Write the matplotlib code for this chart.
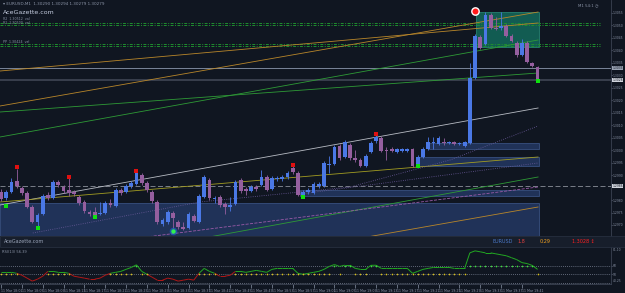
import numpy as np
import pandas as pd
import matplotlib.pyplot as plt
from matplotlib.patches import Rectangle
from matplotlib.collections import LineCollection

# EURUSD M1 candles
opens = [1.29832, 1.29808, 1.29832, 1.29876, 1.29848, 1.29828, 1.29772, 1.29712, 1.29744, 1.29820,
         1.29808, 1.29872, 1.29852, 1.29840, 1.29832, 1.29812, 1.29792, 1.29752, 1.29752, 1.29744,
         1.29748, 1.29788, 1.29776, 1.29840, 1.29832, 1.29856, 1.29864, 1.29900, 1.29868, 1.29832,
         1.29792, 1.29704, 1.29712, 1.29748, 1.29712, 1.29692, 1.29688, 1.29736, 1.29712, 1.29812,
         1.29880, 1.29804, 1.29812, 1.29784, 1.29772, 1.29784, 1.29880, 1.29844, 1.29836, 1.29852,
         1.29860, 1.29892, 1.29844, 1.29884, 1.29884, 1.29892, 1.29928, 1.29908, 1.29820, 1.29832,
         1.29828, 1.29856, 1.29856, 1.29940, 1.29944, 1.30016, 1.29972, 1.30020, 1.29968, 1.29960,
         1.29936, 1.29992, 1.30036, 1.30048, 1.30000, 1.30004, 1.29992, 1.29996, 1.29996, 1.30004,
         1.29936, 1.29972, 1.30004, 1.30028, 1.30024, 1.30032, 1.30028, 1.30032, 1.30024, 1.30016,
         1.30028, 1.30288, 1.30452, 1.30424, 1.30540, 1.30488, 1.30488, 1.30496, 1.30456, 1.30428,
         1.30380, 1.30428, 1.30348, 1.30332]
highs = [1.29844, 1.29840, 1.29888, 1.29924, 1.29856, 1.29836, 1.29780, 1.29748, 1.29824, 1.29832,
         1.29880, 1.29880, 1.29860, 1.29888, 1.29840, 1.29820, 1.29800, 1.29760, 1.29772, 1.29792,
         1.29796, 1.29804, 1.29848, 1.29848, 1.29864, 1.29876, 1.29912, 1.29908, 1.29876, 1.29840,
         1.29800, 1.29728, 1.29760, 1.29756, 1.29720, 1.29712, 1.29752, 1.29744, 1.29824, 1.29900,
         1.29888, 1.29816, 1.29820, 1.29792, 1.29812, 1.29880, 1.29888, 1.29852, 1.29860, 1.29860,
         1.29920, 1.29900, 1.29896, 1.29896, 1.29900, 1.29916, 1.29936, 1.29916, 1.29840, 1.29848,
         1.29872, 1.29872, 1.29956, 1.29976, 1.30020, 1.30024, 1.30040, 1.30028, 1.30000, 1.29968,
         1.29984, 1.30036, 1.30060, 1.30056, 1.30012, 1.30012, 1.30008, 1.30008, 1.30008, 1.30008,
         1.29980, 1.30012, 1.30052, 1.30052, 1.30056, 1.30048, 1.30036, 1.30036, 1.30032, 1.30036,
         1.30348, 1.30464, 1.30460, 1.30552, 1.30548, 1.30532, 1.30552, 1.30504, 1.30464, 1.30436,
         1.30444, 1.30436, 1.30352, 1.30336]
lows = [1.29796, 1.29800, 1.29828, 1.29848, 1.29820, 1.29768, 1.29708, 1.29696, 1.29740, 1.29800,
        1.29804, 1.29852, 1.29828, 1.29816, 1.29816, 1.29780, 1.29748, 1.29736, 1.29736, 1.29740,
        1.29744, 1.29772, 1.29772, 1.29820, 1.29828, 1.29848, 1.29860, 1.29860, 1.29832, 1.29788,
        1.29704, 1.29696, 1.29704, 1.29688, 1.29684, 1.29680, 1.29684, 1.29712, 1.29708, 1.29808,
        1.29800, 1.29788, 1.29772, 1.29744, 1.29756, 1.29780, 1.29828, 1.29820, 1.29832, 1.29836,
        1.29856, 1.29836, 1.29840, 1.29876, 1.29876, 1.29884, 1.29904, 1.29816, 1.29812, 1.29824,
        1.29824, 1.29848, 1.29852, 1.29908, 1.29940, 1.29960, 1.29968, 1.29960, 1.29952, 1.29932,
        1.29932, 1.29988, 1.30028, 1.29992, 1.29960, 1.29992, 1.29988, 1.29992, 1.29992, 1.29932,
        1.29932, 1.29968, 1.30000, 1.30004, 1.30020, 1.30020, 1.30024, 1.30020, 1.30020, 1.30012,
        1.30024, 1.30284, 1.30404, 1.30420, 1.30484, 1.30480, 1.30480, 1.30452, 1.30432, 1.30372,
        1.30376, 1.30348, 1.30332, 1.30276]
closes = [1.29804, 1.29832, 1.29872, 1.29856, 1.29828, 1.29772, 1.29712, 1.29740, 1.29816, 1.29808,
          1.29872, 1.29860, 1.29836, 1.29828, 1.29824, 1.29788, 1.29756, 1.29744, 1.29740, 1.29748,
          1.29788, 1.29780, 1.29840, 1.29828, 1.29856, 1.29868, 1.29908, 1.29868, 1.29840, 1.29796,
          1.29712, 1.29720, 1.29752, 1.29728, 1.29692, 1.29684, 1.29744, 1.29716, 1.29816, 1.29892,
          1.29808, 1.29808, 1.29780, 1.29772, 1.29780, 1.29872, 1.29836, 1.29836, 1.29852, 1.29844,
          1.29892, 1.29840, 1.29888, 1.29888, 1.29892, 1.29908, 1.29912, 1.29820, 1.29832, 1.29840,
          1.29864, 1.29864, 1.29948, 1.29944, 1.30012, 1.29968, 1.30032, 1.29968, 1.29960, 1.29936,
          1.29976, 1.30028, 1.30052, 1.29996, 1.29996, 1.29996, 1.30004, 1.30004, 1.30004, 1.29936,
          1.29972, 1.30004, 1.30032, 1.30032, 1.30048, 1.30028, 1.30032, 1.30024, 1.30028, 1.30032,
          1.30288, 1.30456, 1.30408, 1.30540, 1.30488, 1.30484, 1.30496, 1.30456, 1.30436, 1.30380,
          1.30428, 1.30352, 1.30336, 1.30280]

# oscillator in the lower pane
rsi = [52.2, 52.2, 52.2, 51.1, 48.9, 45.6, 42.2, 44.4, 47.8, 53.3,
       53.3, 52.2, 52.2, 51.1, 47.8, 46.7, 45.6, 44.4, 44.4, 45.6,
       48.9, 51.1, 52.2, 53.3, 55.6, 57.8, 60.8, 53.3, 50.0, 46.7,
       43.3, 43.3, 45.6, 44.4, 42.2, 43.3, 44.4, 43.3, 51.1, 56.7,
       53.3, 51.1, 47.8, 47.8, 48.9, 53.3, 53.3, 52.2, 53.3, 54.4,
       53.3, 52.2, 55.6, 56.7, 56.7, 56.7, 56.7, 51.1, 50.0, 51.1,
       52.2, 53.3, 55.6, 58.9, 61.1, 58.9, 60.4, 60.4, 56.7, 55.6,
       55.6, 60.2, 60.3, 56.7, 56.7, 56.7, 56.7, 56.7, 56.7, 51.1,
       53.3, 55.6, 56.7, 57.8, 57.8, 57.8, 57.8, 56.7, 56.7, 56.7,
       74.4, 76.7, 75.6, 74.4, 74.4, 73.3, 72.2, 71.1, 68.9, 66.7,
       63.3, 62.2, 60.0, 55.6]

# fractal / signal markers (bar index, price)
up_marks_idx = [3, 13, 26, 56, 72]
up_marks_px = [1.29932, 1.29892, 1.29916, 1.29940, 1.30064]
dn_marks_idx = [1, 7, 18, 58, 80, 103]
dn_marks_px = [1.29776, 1.29688, 1.29732, 1.29812, 1.29936, 1.30276]
big_dot = (33, 1.29676)
alert_dot = (91, 1.30556)

# horizontal levels
green_levels = [1.30508, 1.30500, 1.30424, 1.30416]
level_line = 1.30328
last_price = 1.30280
dash_level = 1.29856

# zones: (start bar, end bar, low, high)
zones = [(-0.2, 103.2, 1.29656, 1.29788),
         (57.4, 103.2, 1.29816, 1.29840),
         (80.0, 103.2, 1.29936, 1.29972),
         (82.0, 103.2, 1.30004, 1.30028)]
box = (91.2, 103.2, 1.30412, 1.30552)

# trend lines: (bars, prices, colour, style)
trend_lines = [
    ([-0.2, 103.1], [1.30316, 1.30508], '#b8862a', '-'),
    ([-0.2, 103.1], [1.30176, 1.30552], '#b8862a', '-'),
    ([-0.2, 103.1], [1.30052, 1.30440], '#2e9a36', '-'),
    ([-0.2, 103.1], [1.30152, 1.30308], '#2e9a36', '-'),
    ([-0.2, 103.1], [1.29780, 1.30168], '#b8bcc4', '-'),
    ([-0.2, 103.1], [1.29792, 1.29972], '#a29c22', '-'),
    ([6.1, 38.2, 67.0, 86.2, 103.1], [1.29668, 1.29792, 1.29852, 1.29960, 1.30096], '#6a5a9a', ':'),
    ([57.4, 103.1], [1.29824, 1.29948], '#6a5a9a', ':'),
    ([36.8, 103.1], [1.29640, 1.29892], '#2e9a36', '-'),
    ([23.4, 103.1], [1.29640, 1.29852], '#9a5aa8', '--'),
    ([67.0, 103.1], [1.29640, 1.29772], '#b8862a', '-'),
]

times = pd.date_range('2013-03-11 18:01', periods=len(opens), freq='1min')
label_idx = list(range(0, 101, 4))
time_labels = [times[i].strftime('%d %b %H:%M') for i in label_idx]

BG = '#101621'
BULL = '#4a78e6'
BEAR = '#955f9f'
TXT = '#8a93a6'

fig = plt.figure(figsize=(6.25, 2.93), dpi=100, facecolor=BG)
ax = fig.add_axes([0, 57 / 293, 611 / 625, 236 / 293], facecolor=BG)
ax2 = fig.add_axes([0, 9 / 293, 611 / 625, 37 / 293], facecolor=BG, sharex=ax)

x = np.arange(len(opens))
o = np.array(opens)
c = np.array(closes)

# zones and box
for x0, x1, lo, hi in zones:
    ax.add_patch(Rectangle((x0, lo), x1 - x0, hi - lo, facecolor='#22365f', edgecolor='#3b5587',
                           lw=0.6, alpha=0.9, zorder=1))
ax.add_patch(Rectangle((box[0], box[2]), box[1] - box[0], box[3] - box[2], facecolor='#13695b',
                       edgecolor='#2a8c7a', lw=0.6, alpha=0.85, zorder=1))

for lv in green_levels:
    ax.axhline(lv, color='#1f8f2f', lw=0.7, ls=(0, (3, 1.5, 1, 1.5)), xmax=600 / 611, zorder=2)
ax.axhline(level_line, color='#7a8599', lw=0.7, zorder=2)
ax.axhline(last_price, color='#3f4554', lw=1.2, zorder=2)
ax.axhline(dash_level, color='#8a8f99', lw=0.6, ls=(0, (6, 3)), zorder=2)

for xs, ys, col, ls in trend_lines:
    ax.plot(xs, ys, color=col, lw=0.6, ls=ls, zorder=2)

# candles
colors = np.where(c >= o, BULL, BEAR)
ax.vlines(x, lows, highs, colors=colors, lw=0.6, zorder=3)
body = np.maximum(np.abs(c - o), 0.00003)
ax.bar(x, body, bottom=np.minimum(o, c), width=0.72, color=colors, zorder=4)

ax.scatter(up_marks_idx, up_marks_px, s=5, marker='s', color='#e01010', zorder=5, lw=0)
ax.scatter(dn_marks_idx, dn_marks_px, s=5, marker='s', color='#10e010', zorder=5, lw=0)
ax.scatter([big_dot[0]], [big_dot[1]], s=30, color='#1e6ad8', alpha=0.6, zorder=5, lw=0)
ax.scatter([big_dot[0]], [big_dot[1]], s=10, color='#30f050', zorder=6, lw=0)
ax.scatter([alert_dot[0]], [alert_dot[1]], s=28, color='#ff1a1a', edgecolor='white', lw=1.0, zorder=6)

ax.set_xlim(-0.2, 117.1)
ax.set_ylim(1.29656, 1.30600)
ax.yaxis.tick_right()
# skip the plain labels that would sit under the highlighted ones
yt = [t for t in np.arange(1.2970, 1.3058, 0.0005)
      if min(abs(t - level_line), abs(t - last_price), abs(t - dash_level)) > 0.00015]
ax.set_yticks(yt)
ax.yaxis.set_major_formatter(plt.FormatStrFormatter('%.4f'))
ax.tick_params(axis='y', colors=TXT, labelsize=2.2, length=1, width=0.5, pad=0.4)
ax.tick_params(axis='x', bottom=False, labelbottom=False)
for s in ['top', 'left', 'bottom']:
    ax.spines[s].set_visible(False)
ax.spines['right'].set_color('#3a4252')
ax.spines['right'].set_linewidth(0.6)

for val, fc in [(level_line, '#9aa3b3'), (last_price, '#d0d4dc'), (dash_level, '#d0d4dc')]:
    ax.text(1.002, val, f'{val:.4f}', transform=ax.get_yaxis_transform(), fontsize=2.2,
            color='#101621', va='center', ha='left',
            bbox=dict(boxstyle='square,pad=0.1', fc=fc, ec='none'))

# oscillator pane
r = np.array(rsi)
pts = np.column_stack([x, r])
segs = np.stack([pts[:-1], pts[1:]], axis=1)
seg_cols = ['#22a822' if min(a, b) >= 50 else '#b01818' for a, b in zip(r[:-1], r[1:])]
ax2.add_collection(LineCollection(segs, colors=seg_cols, lw=0.7, zorder=3))
for lv in [60, 50, 40]:
    ax2.axhline(lv, color='#7a8294', lw=0.6, ls=(0, (1, 1.5)), zorder=1)
mid = (r >= 50) & (r < 60)
hi = r >= 60
ax2.scatter(x[mid], np.full(mid.sum(), 50), s=1.5, color='#d8c020', lw=0, zorder=4)
ax2.scatter(x[hi], np.full(hi.sum(), 60), s=1.5, color='#40e040', lw=0, zorder=4)
ax2.set_ylim(38.9, 81.1)
ax2.yaxis.tick_right()
ax2.set_yticks([50, 60])
ax2.tick_params(axis='y', colors=TXT, labelsize=2.2, length=1, width=0.5, pad=0.4)
ax2.text(1.003, 0.97, '81.10', transform=ax2.transAxes, fontsize=2.2, color=TXT, va='top')
ax2.text(1.003, 0.02, '40.25', transform=ax2.transAxes, fontsize=2.2, color=TXT, va='bottom')
ax2.set_xticks(label_idx)
ax2.set_xticklabels(time_labels, ha='left')
ax2.tick_params(axis='x', colors=TXT, labelsize=2.3, length=3, width=0.5, pad=0.5, direction='out')
for s in ['top', 'left']:
    ax2.spines[s].set_visible(False)
ax2.spines['right'].set_color('#3a4252')
ax2.spines['bottom'].set_color('#3a4252')
ax2.spines['right'].set_linewidth(0.6)
ax2.spines['bottom'].set_linewidth(0.6)
ax2.text(0.004, 0.93, 'RSI(13) 56.39', transform=ax2.transAxes, fontsize=2.6, color=TXT, va='top')

# status bar between panes
fig.patches.append(Rectangle((0, 46 / 293), 1, 11 / 293, transform=fig.transFigure,
                             facecolor='#171e2b', edgecolor='#2a3344', lw=0.5, zorder=0))
fig.text(4 / 625, 51.5 / 293, 'AceGazette.com', fontsize=3.5, color='#9aa4b8', va='center')
fig.text(493 / 625, 51.5 / 293, 'EURUSD', fontsize=3.5, color='#4a78c8', va='center')
fig.text(517 / 625, 51.5 / 293, '1.8', fontsize=3.5, color='#e04040', va='center')
fig.text(540 / 625, 51.5 / 293, '0:29', fontsize=3.5, color='#f0a020', va='center')
fig.text(572 / 625, 51.5 / 293, '1.3028 \u2195', fontsize=3.5, color='#ff2020', va='center')

# header
fig.text(3 / 625, 1 - 4 / 293, '\u25be EURUSD,M1  1.30290 1.30294 1.30279 1.30279', fontsize=3,
         color=TXT, va='center')
fig.text(3 / 625, 1 - 12 / 293, 'AceGazette.com', fontsize=4.5, color='#c5cde0', va='center')
fig.text(578 / 625, 1 - 5 / 293, 'M1 54:1 \u25f7', fontsize=2.8, color=TXT, va='center')
for yy, s in [(19, 'R2  1.30512  val'), (23, 'R1  1.30500  val'), (42, 'PP  1.30424  val')]:
    fig.text(3 / 625, 1 - yy / 293, s, fontsize=2.3, color=TXT, va='center')

fig.savefig('out.png', dpi=100, facecolor=BG)
